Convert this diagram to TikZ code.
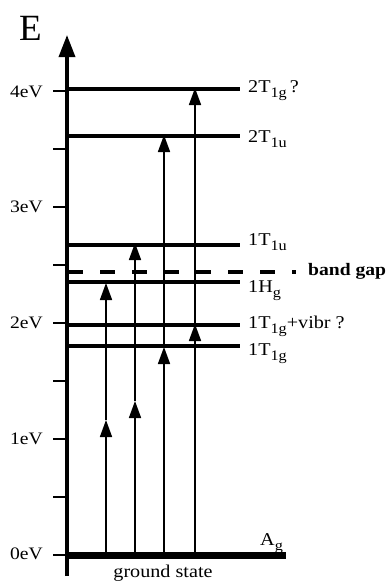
\documentclass[tikz,border=0pt]{standalone}
\usepackage{fontspec}
\setmainfont{Liberation Serif}[FakeStretch=1.12]
\newfontfamily\plainserif{Liberation Serif}
\usetikzlibrary{arrows.meta}
\newcommand\lsub[1]{\raisebox{-5pt}{\fontsize{14.5}{16}\selectfont #1}}
\begin{document}
\begin{tikzpicture}[x=1pt,y=1pt,
  lvl/.style={line width=3.6pt},
  exc/.style={line width=1.7pt,-{Triangle[width=12pt,length=17pt]}},
  ticksty/.style={line width=2pt},
  lab/.style={anchor=base west,inner sep=0pt,font=\fontsize{18}{20}\selectfont},
  tlab/.style={anchor=base east,inner sep=0pt,font=\fontsize{17.5}{19}\selectfont}]
\useasboundingbox (0,0) rectangle (390,-581);
% axis
\coordinate (axb) at (67,-576);
\coordinate (axt) at (67,-35);
\draw[line width=3.4pt,-{Triangle[width=16pt,length=22pt]}] (axb) -- (axt);
\node[anchor=base west,inner sep=0pt,font=\plainserif\fontsize{37}{39}\selectfont] (E) at (19,-40) {E};
% ticks
\foreach \i/\y in {0/555,1/497,2/439,3/381,4/323,5/265,6/207,7/149,8/91}{
  \coordinate (t\i) at (53,-\y);
  \coordinate (u\i) at (67,-\y);
  \draw[ticksty] (t\i) -- (u\i);
}
\node[tlab] (l0) at (43,-559) {0eV};
\node[tlab] (l1) at (43,-444) {1eV};
\node[tlab] (l2) at (43,-328) {2eV};
\node[tlab] (l3) at (43,-212) {3eV};
\node[tlab] (l4) at (43,-97) {4eV};
% ground state
\coordinate (g0) at (67,-555);
\coordinate (g1) at (286,-555);
\draw[line width=7pt] (g0) -- (g1);
\node[lab] (Ag) at (260,-545) {A\lsub{g}};
\node[anchor=base,inner sep=0pt,font=\fontsize{18}{20}\selectfont] (gs) at (163,-577) {ground state};
% levels
\foreach \n/\y in {a/89,b/136,c/245,d/282,e/325,f/346}{
  \coordinate (\n0) at (67,-\y);
  \coordinate (\n1) at (240,-\y);
  \draw[lvl] (\n0) -- (\n1);
}
\node[lab] (La) at (248,-92) {2T\lsub{1g}\,?};
\node[lab] (Lb) at (248,-142) {2T\lsub{1u}};
\node[lab] (Lc) at (248,-245) {1T\lsub{1u}};
\node[lab] (Ld) at (248,-292) {1H\lsub{g}};
\node[lab] (Le) at (248,-328) {1T\lsub{1g}+vibr ?};
\node[lab] (Lf) at (248,-355) {1T\lsub{1g}};
% band gap
\coordinate (bg0) at (68,-272);
\coordinate (bg1) at (296,-272);
\draw[line width=3.6pt,dash pattern=on 15pt off 17pt] (bg0) -- (bg1);
\node[anchor=base west,inner sep=0pt,font=\fontsize{17.5}{19}\selectfont\bfseries] (bg) at (308,-275) {band gap};
% excitations
\coordinate (p0) at (106,-553); \coordinate (p1) at (106,-420); \coordinate (p2) at (106,-283);
\coordinate (q0) at (135,-553); \coordinate (q1) at (135,-401); \coordinate (q2) at (135,-243);
\coordinate (r0) at (164,-553); \coordinate (r1) at (164,-347); \coordinate (r2) at (164,-135);
\coordinate (s0) at (195,-553); \coordinate (s1) at (195,-324); \coordinate (s2) at (195,-88);
\foreach \a in {p,q,r,s}{
  \draw[exc] (\a0) -- (\a1);
  \draw[exc] (\a1) -- (\a2);
}
\end{tikzpicture}
\end{document}
